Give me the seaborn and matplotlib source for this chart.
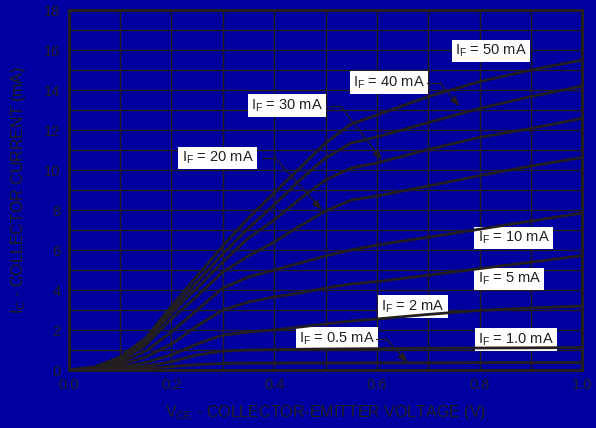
import numpy as np
import pandas as pd
import matplotlib
matplotlib.use('Agg')
import matplotlib.pyplot as plt
import seaborn as sns

# collector-emitter voltage (V) sample points
vce = [0.0, 0.05, 0.1, 0.15, 0.2, 0.25, 0.3, 0.35, 0.4, 0.45, 0.5, 0.55, 0.6, 0.7, 0.8, 0.9, 1.0]

# collector current (mA) for each forward current
ic_50 = [0, 0.15, 0.65, 1.6, 3.2, 4.7, 6.2, 7.6, 8.85, 10.1, 11.35, 12.3, 12.75, 13.67, 14.42, 15.0, 15.5]
ic_40 = [0, 0.14, 0.6, 1.5, 3.0, 4.4, 5.8, 7.1, 8.25, 9.5, 10.6, 11.35, 11.65, 12.37, 13.08, 13.67, 14.2]
ic_30 = [0, 0.13, 0.55, 1.4, 2.85, 4.1, 5.4, 6.6, 7.5, 8.55, 9.5, 10.1, 10.35, 11.03, 11.63, 12.08, 12.58]
ic_20 = [0, 0.11, 0.45, 1.25, 2.55, 3.7, 4.9, 5.7, 6.4, 7.2, 7.95, 8.5, 8.7, 9.2, 9.72, 10.2, 10.63]
ic_10 = [0, 0.08, 0.35, 0.95, 1.9, 3.0, 4.1, 4.65, 5.0, 5.35, 5.7, 6.0, 6.25, 6.64, 7.04, 7.45, 7.85]
ic_5 = [0, 0.06, 0.25, 0.65, 1.3, 2.2, 3.0, 3.4, 3.65, 3.85, 4.1, 4.3, 4.42, 4.74, 5.07, 5.39, 5.72]
ic_2 = [0, 0.04, 0.13, 0.38, 0.75, 1.3, 1.75, 1.9, 2.0, 2.15, 2.3, 2.45, 2.55, 2.78, 2.98, 3.1, 3.2]
ic_1 = [0, 0.03, 0.08, 0.2, 0.42, 0.75, 0.95, 1.0, 1.02, 1.04, 1.05, 1.06, 1.07, 1.09, 1.1, 1.11, 1.12]
ic_05 = [0, 0.02, 0.04, 0.09, 0.17, 0.27, 0.33, 0.34, 0.34, 0.35, 0.35, 0.35, 0.36, 0.36, 0.37, 0.37, 0.37]

if_names = ['50', '40', '30', '20', '10', '5', '2', '1.0', '0.5']
curves = [ic_50, ic_40, ic_30, ic_20, ic_10, ic_5, ic_2, ic_1, ic_05]

x_ticks = [0.0, 0.2, 0.4, 0.6, 0.8, 1.0]
y_ticks = [0, 2, 4, 6, 8, 10, 12, 14, 16, 18]

BLUE = '#0000a0'
INK = '#231f20'

sns.set_theme(style='white')
plt.rcParams['font.family'] = ['Liberation Sans', 'DejaVu Sans']
plt.rcParams['mathtext.fontset'] = 'custom'
plt.rcParams['mathtext.rm'] = 'Liberation Sans'
plt.rcParams['mathtext.it'] = 'Liberation Sans:italic'
plt.rcParams['mathtext.bf'] = 'Liberation Sans:bold'

rows = []
for name, ic in zip(if_names, curves):
    for v, i in zip(vce, ic):
        rows.append({'vce': v, 'ic': i, 'if': name})
df = pd.DataFrame(rows)

fig = plt.figure(figsize=(5.96, 4.28), dpi=100, facecolor=BLUE)
ax = fig.add_axes([0.1153, 0.1355, 0.8617, 0.8411])
ax.set_facecolor(BLUE)

sns.lineplot(data=df, x='vce', y='ic', hue='if', palette=[INK] * len(if_names),
             estimator=None, sort=False, legend=False, linewidth=2.0, ax=ax, zorder=2.5)

ax.set_xlim(0, 1.0)
ax.set_ylim(0, 18)
ax.set_xticks(x_ticks)
ax.set_xticklabels([f'{t:.1f}' for t in x_ticks])
ax.set_yticks(y_ticks)
ax.set_xticks(np.arange(0, 1.01, 0.1), minor=True)
ax.set_yticks(np.arange(0, 18.1, 1), minor=True)
ax.set_axisbelow(True)
ax.grid(which='both', color=INK, linewidth=1.0)
ax.tick_params(which='both', length=0, colors=INK, labelsize=10.5, pad=6)
for s in ax.spines.values():
    s.set_color(INK)
    s.set_linewidth(2.2)

ax.set_xlabel(r'V$_\mathrm{CE}$ - COLLECTOR-EMITTER VOLTAGE (V)', fontsize=11.5, color=INK)
ax.set_ylabel(r'I$_\mathrm{C}$ - COLLECTOR CURRENT (mA)', fontsize=11.5, color=INK)
ax.xaxis.set_label_coords(0.5, -0.092)
ax.yaxis.set_label_coords(-0.08, 0.5)

# label placement: text left edge / centre, optional leader (elbow, tip)
labels = [
    ('50', 0.753, 15.95, None),
    ('40', 0.5545, 14.37, (0.698, 0.723, 0.761, 13.17)),
    ('30', 0.355, 13.21, (0.506, 0.529, 0.61, 10.5)),
    ('20', 0.22, 10.6, (0.376, 0.402, 0.493, 8.0)),
    ('10', 0.796, 6.6, None),
    ('5', 0.796, 4.55, None),
    ('2', 0.6085, 3.17, None),
    ('0.5', 0.449, 1.57, (0.599, 0.618, 0.66, 0.37)),
    ('1.0', 0.797, 1.53, None),
]
for name, lx, ly, lead in labels:
    ax.text(lx, ly, r'I$_\mathrm{F}$ = ' + name + ' mA', fontsize=10.5, color=INK,
            ha='left', va='center', zorder=1.5,
            bbox=dict(boxstyle='square,pad=0.22', fc='white', ec='none'))
    if lead:
        x0, xe, xt, yt = lead
        ax.plot([x0, xe], [ly, ly], color=INK, lw=0.9, zorder=3)
        ax.annotate('', xy=(xt, yt), xytext=(xe, ly),
                    arrowprops=dict(arrowstyle='-|>,head_length=0.5,head_width=0.18',
                                    color=INK, lw=0.9, shrinkA=0, shrinkB=0), zorder=3)

fig.savefig('out.png', dpi=100, facecolor=BLUE)
